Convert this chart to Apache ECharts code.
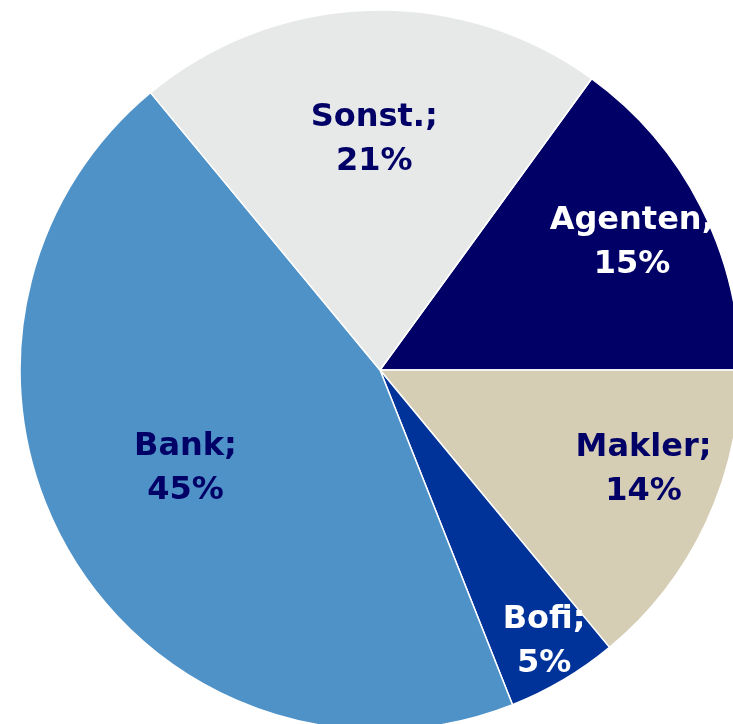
<!DOCTYPE html>
<html>
<head>
<meta charset="utf-8">
<script src="https://cdn.jsdelivr.net/npm/echarts@6/dist/echarts.min.js"></script>
<style>
  html, body { margin: 0; padding: 0; background: #fff; }
  #myPieChart { width: 733px; height: 724px; }
</style>
</head>
<body>
<div id="myPieChart"></div>
<script>
// Anteile in Prozent, im Uhrzeigersinn ab Agenten
var categories = ['Agenten', 'Makler', 'Bofi', 'Bank', 'Sonst.'];
var shares = [15, 14, 5, 45, 21];

var sliceColors = ['#000066', '#d6cdb5', '#003399', '#4f92c8', '#e6e9e8'];
var labelColors = ['#ffffff', '#000066', '#ffffff', '#000066', '#000066'];
// Verschiebung der Beschriftung gegenueber der Standardposition (inside)
var labelShift = [[89, -44], [98, 22], [71, 114], [-37, 6], [0, -47]];

var myChart = echarts.init(document.getElementById('myPieChart'));

var option = {
    animation: false,
    series: [{
        type: 'pie',
        center: [380, 370],
        radius: 360,
        startAngle: 54,
        clockwise: true,
        avoidLabelOverlap: false,
        z: 2,
        itemStyle: {
            borderColor: '#ffffff',
            borderWidth: 1.5
        },
        label: {
            show: true,
            position: 'inside',
            fontFamily: 'DejaVu Sans',
            fontWeight: 'bold',
            fontSize: 32,
            lineHeight: 44,
            align: 'center',
            formatter: function (p) {
                return p.name + ';\n' + p.value + '%';
            }
        },
        labelLine: { show: false },
        labelLayout: function (p) {
            return { dx: labelShift[p.dataIndex][0], dy: labelShift[p.dataIndex][1] };
        },
        emphasis: { disabled: true },
        data: categories.map(function (c, i) {
            return {
                name: c,
                value: shares[i],
                itemStyle: { color: sliceColors[i] },
                label: { color: labelColors[i] }
            };
        })
    }, {
        // weisser Rand ausserhalb des Kreises, schneidet Beschriftungen ab
        type: 'pie',
        center: [380, 370],
        radius: [361, 900],
        silent: true,
        z: 5,
        label: { show: false },
        labelLine: { show: false },
        itemStyle: { color: '#ffffff' },
        data: [1]
    }]
};

myChart.setOption(option);
window.onresize = function () {
    myChart.resize();
};
</script>
</body>
</html>
